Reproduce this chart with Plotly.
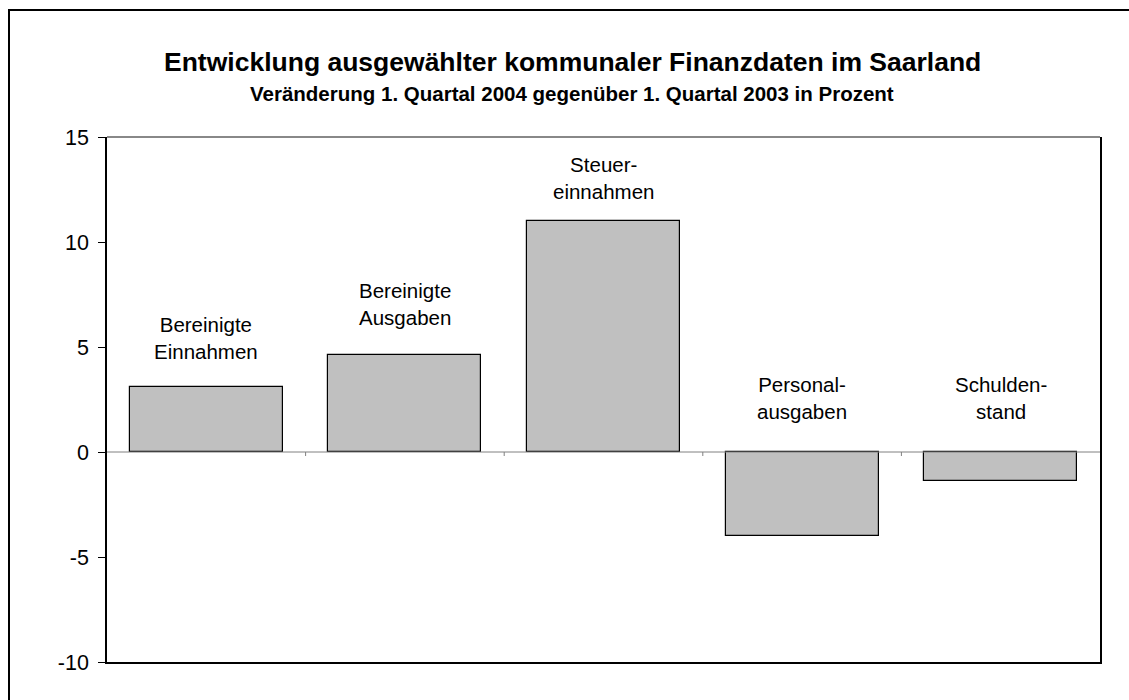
import plotly.graph_objects as go

categories = ["Bereinigte<br>Einnahmen", "Bereinigte<br>Ausgaben", "Steuer-<br>einnahmen",
              "Personal-<br>ausgaben", "Schulden-<br>stand"]
values = [3.1, 4.6, 11.0, -4.0, -1.4]
y_ticks = [-10, -5, 0, 5, 10, 15]
y_tick_text = ["-10", "-5", "0", "5", "10", "15"]

title = "Entwicklung ausgewählter kommunaler Finanzdaten im Saarland"
subtitle = "Veränderung 1. Quartal 2004 gegenüber 1. Quartal 2003 in Prozent"

label_offset = [1.03, 1.15, 0.75, 1.28, 1.28]

FONT = "Arial, 'Liberation Sans', sans-serif"
W, H = 1129, 700
L, R, T, B = 107, 29, 137, 38
pw, ph = W - L - R, H - T - B

def px_x(p):
    return (p - L) / pw

def px_y(p):
    return (H - B - p) / ph

xs = list(range(len(categories)))

fig = go.Figure()
fig.add_trace(go.Bar(
    x=xs, y=values, width=0.77,
    marker=dict(color="#C0C0C0", line=dict(color="black", width=1.2)),
    hoverinfo="skip", showlegend=False,
))

shapes = []
shapes.append(dict(type="line", xref="paper", yref="y", x0=0, x1=1, y0=0, y1=0,
                   line=dict(color="#808080", width=1), layer="above"))
for i in range(len(categories) - 1):
    shapes.append(dict(type="line", xref="x", yref="y", ysizemode="pixel", yanchor=0,
                       x0=i + 0.5, x1=i + 0.5, y0=0, y1=-4,
                       line=dict(color="#808080", width=1)))
shapes.append(dict(type="line", xref="paper", yref="paper", x0=0, x1=1, y0=1, y1=1,
                   line=dict(color="#606060", width=1.5)))
shapes.append(dict(type="rect", xref="paper", yref="paper",
                   x0=px_x(9), x1=px_x(1140), y0=px_y(712), y1=px_y(10),
                   line=dict(color="black", width=2)))

annotations = []
for i, (c, v) in enumerate(zip(categories, values)):
    annotations.append(dict(x=i, y=max(v, 0) + label_offset[i], xref="x", yref="y",
                            text=c, showarrow=False, yanchor="bottom",
                            font=dict(family=FONT, size=20.5, color="black")))
annotations.append(dict(x=px_x(572), y=px_y(62), xref="paper", yref="paper",
                        text="<b>" + title + "</b>", showarrow=False,
                        xanchor="center", yanchor="middle",
                        font=dict(family=FONT, size=26.5, color="black")))
annotations.append(dict(x=px_x(572), y=px_y(93), xref="paper", yref="paper",
                        text="<b>" + subtitle + "</b>", showarrow=False,
                        xanchor="center", yanchor="middle",
                        font=dict(family=FONT, size=20.5, color="black")))

fig.update_layout(
    width=W, height=H,
    margin=dict(l=L, r=R, t=T, b=B, pad=0),
    paper_bgcolor="white", plot_bgcolor="white",
    xaxis=dict(range=[-0.5, len(categories) - 0.5], showticklabels=False,
               showgrid=False, zeroline=False, showline=True,
               linecolor="black", linewidth=1.5, ticks=""),
    yaxis=dict(range=[min(y_ticks), max(y_ticks)], tickvals=y_ticks, ticktext=y_tick_text,
               showgrid=False, zeroline=False, showline=True, mirror=True,
               linecolor="black", linewidth=1.5, ticks="outside", ticklen=7,
               tickcolor="black", tickwidth=1, ticklabelstandoff=5,
               tickfont=dict(family=FONT, size=21.5, color="black")),
    shapes=shapes,
    annotations=annotations,
    bargap=0,
)

fig.write_html("out.html")
